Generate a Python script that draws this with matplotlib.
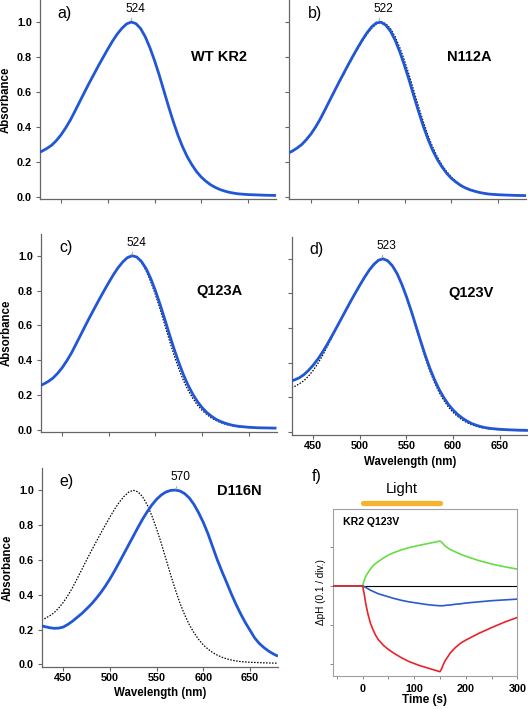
import matplotlib
matplotlib.use("Agg")
import matplotlib.pyplot as plt

plt.rcParams['font.family'] = ['Liberation Sans', 'DejaVu Sans']

# ---------------- data ----------------
wl = [427, 430, 435, 440, 445, 450, 455, 460, 465, 470, 475, 480, 485, 490, 495,
      500, 505, 510, 515, 520, 525, 530, 535, 540, 545, 550, 555, 560, 565, 570,
      575, 580, 585, 590, 595, 600, 605, 610, 615, 620, 625, 630, 635, 640, 650,
      660, 670, 680]

wt_abs = [0.254, 0.262, 0.277, 0.295, 0.322, 0.355, 0.395, 0.440, 0.492, 0.545,
          0.598, 0.650, 0.700, 0.750, 0.798, 0.845, 0.890, 0.930, 0.963, 0.988,
          0.999, 0.990, 0.962, 0.915, 0.852, 0.778, 0.695, 0.605, 0.515, 0.430,
          0.352, 0.285, 0.228, 0.182, 0.143, 0.112, 0.088, 0.068, 0.053, 0.041,
          0.032, 0.025, 0.020, 0.016, 0.012, 0.010, 0.008, 0.007]

n112a_abs = [0.252, 0.260, 0.277, 0.297, 0.325, 0.358, 0.398, 0.444, 0.496, 0.549,
             0.602, 0.654, 0.705, 0.756, 0.805, 0.852, 0.897, 0.938, 0.972, 0.994,
             0.998, 0.981, 0.947, 0.895, 0.828, 0.750, 0.665, 0.575, 0.487, 0.404,
             0.330, 0.266, 0.213, 0.170, 0.134, 0.105, 0.083, 0.064, 0.050, 0.039,
             0.031, 0.024, 0.019, 0.015, 0.011, 0.009, 0.007, 0.006]

q123a_abs = [0.255, 0.262, 0.277, 0.296, 0.323, 0.356, 0.396, 0.441, 0.493, 0.546,
             0.599, 0.651, 0.701, 0.751, 0.799, 0.846, 0.891, 0.931, 0.964, 0.989,
             1.000, 0.993, 0.968, 0.927, 0.870, 0.800, 0.722, 0.637, 0.550, 0.466,
             0.388, 0.318, 0.257, 0.206, 0.163, 0.128, 0.100, 0.078, 0.060, 0.047,
             0.037, 0.029, 0.023, 0.019, 0.014, 0.011, 0.010, 0.009]

q123v_abs = [0.295, 0.300, 0.312, 0.330, 0.355, 0.385, 0.420, 0.460, 0.505, 0.553,
             0.602, 0.652, 0.702, 0.752, 0.800, 0.847, 0.892, 0.933, 0.967, 0.991,
             0.999, 0.987, 0.958, 0.913, 0.852, 0.780, 0.700, 0.614, 0.527, 0.444,
             0.368, 0.302, 0.245, 0.198, 0.158, 0.126, 0.100, 0.079, 0.062, 0.048,
             0.038, 0.030, 0.024, 0.020, 0.015, 0.012, 0.010, 0.009]

wl_d116n = [427, 430, 435, 440, 445, 450, 455, 460, 465, 470, 475, 480, 485, 490,
            495, 500, 505, 510, 515, 520, 525, 530, 535, 540, 545, 550, 555, 560,
            565, 570, 575, 580, 585, 590, 595, 600, 605, 610, 615, 620, 625, 630,
            635, 640, 645, 650, 655, 660, 665, 670, 675, 680]
d116n_abs = [0.221, 0.217, 0.211, 0.207, 0.208, 0.214, 0.229, 0.248, 0.270, 0.292,
             0.318, 0.345, 0.376, 0.410, 0.448, 0.490, 0.536, 0.585, 0.635, 0.685,
             0.735, 0.785, 0.833, 0.876, 0.915, 0.947, 0.972, 0.989, 0.998, 1.000,
             0.995, 0.980, 0.955, 0.918, 0.870, 0.815, 0.750, 0.675, 0.600, 0.533,
             0.470, 0.405, 0.345, 0.290, 0.240, 0.196, 0.152, 0.120, 0.096, 0.076,
             0.060, 0.047]

panel_tags = ['a)', 'b)', 'c)', 'd)', 'e)']
sample_names = ['WT KR2', 'N112A', 'Q123A', 'Q123V', 'D116N']
peak_nm = [524, 522, 524, 523, 570]

t_s = [-58, 0, 3, 6, 10, 15, 20, 25, 30, 40, 50, 60, 75, 90, 100, 110, 125, 140,
       150, 153, 156, 160, 170, 180, 190, 200, 225, 250, 275, 300]
dph_green = [0, 0, 0.014, 0.024, 0.033, 0.043, 0.051, 0.057, 0.062, 0.071, 0.079,
             0.085, 0.092, 0.098, 0.101, 0.104, 0.108, 0.112, 0.115, 0.112, 0.108,
             0.102, 0.093, 0.087, 0.081, 0.076, 0.065, 0.056, 0.049, 0.043]
dph_blue = [0, 0, -0.002, -0.004, -0.007, -0.011, -0.014, -0.017, -0.020, -0.024,
            -0.028, -0.032, -0.037, -0.041, -0.043, -0.045, -0.048, -0.050, -0.051,
            -0.051, -0.051, -0.050, -0.049, -0.047, -0.046, -0.044, -0.041, -0.038,
            -0.036, -0.034]
dph_red = [0, 0, -0.020, -0.045, -0.070, -0.095, -0.112, -0.126, -0.137, -0.152,
           -0.163, -0.172, -0.184, -0.194, -0.199, -0.204, -0.210, -0.216, -0.220,
           -0.213, -0.203, -0.192, -0.172, -0.158, -0.147, -0.139, -0.122, -0.107,
           -0.093, -0.081]
light_on = [0, 150]

# ---------------- layout ----------------
W, H = 528, 709
fig = plt.figure(figsize=(W / 100, H / 100), dpi=100)


def add_ax(l, t, r, b):
    return fig.add_axes([l / W, 1 - b / H, (r - l) / W, (b - t) / H])


def ftext(x, y, s, **kw):
    fig.text(x / W, 1 - y / H, s, **kw)


BLUE = '#2157d6'
SPINE = '#666666'

boxes = [(39.7, 0, 276, 199.3),
         (289.3, 0, 526.3, 199.3),
         (40.7, 234, 276.5, 432.3),
         (291.7, 237, 527.8, 434.5),
         (41.7, 468.3, 278, 667)]
solids = [wt_abs, n112a_abs, q123a_abs, q123v_abs, d116n_abs]
solid_wl = [wl, wl, wl, wl, wl_d116n]

for i, box in enumerate(boxes):
    ax = add_ax(*box)
    if i > 0:
        ax.plot(wl, wt_abs, color='black', lw=0.9, ls=(0, (1.2, 1.2)), zorder=2)
    ax.plot(solid_wl[i], solids[i], color=BLUE, lw=2.0, zorder=3,
            solid_capstyle='butt', solid_joinstyle='round')
    ax.set_xlim(427, 680)
    ax.set_ylim(-0.015, 1.125)
    ax.set_xticks([450, 500, 550, 600, 650])
    ax.set_yticks([0.0, 0.2, 0.4, 0.6, 0.8, 1.0])
    for s in ['top', 'right']:
        ax.spines[s].set_visible(False)
    for s in ['left', 'bottom']:
        ax.spines[s].set_color(SPINE)
        ax.spines[s].set_linewidth(0.9)
    ax.tick_params(direction='out', length=3, width=0.8, color=SPINE,
                   labelsize=7.8, pad=1.5)
    ax.tick_params(axis='y', pad=2.5)
    if i in (0, 2, 4):
        ax.set_yticklabels(['0.0', '0.2', '0.4', '0.6', '0.8', '1.0'],
                           fontweight='bold')
        ax.set_ylabel('Absorbance', fontsize=8.3, fontweight='bold')
        ax.yaxis.set_label_coords(-0.118, 0.5)
    else:
        ax.set_yticklabels([])
    if i in (3, 4):
        ax.set_xticklabels(['450', '500', '550', '600', '650'],
                           fontweight='bold')
        ax.set_xlabel('Wavelength (nm)', fontsize=8.3, fontweight='bold',
                      labelpad=4 if i == 3 else 3)
    else:
        ax.set_xticklabels([])
    ax.text(454, 1.05, panel_tags[i], fontsize=11.5, ha='center', va='center')
    nx = 639 if i == 4 else 619
    ny = 0.995 if i == 4 else 0.80
    ax.text(nx, ny, sample_names[i], fontsize=10.5, fontweight='bold',
            ha='center', va='center')
    pk = peak_nm[i]
    ax.annotate(str(pk), xy=(pk + 0.3, 1.0), xytext=(pk + 5.5, 1.075),
                fontsize=8.6, ha='center', va='center',
                arrowprops=dict(arrowstyle='-', color='#999999', lw=0.6,
                                shrinkA=0.5, shrinkB=0.5))

# ---------------- panel f ----------------
axf = add_ax(332.7, 509, 517.3, 676)
axf.plot([0, 300], [0, 0], color='black', lw=0.8, zorder=2)
axf.plot(t_s, dph_green, color='#66dd44', lw=1.2, zorder=3)
axf.plot(t_s, dph_blue, color='#2a5ad0', lw=1.2, zorder=4)
axf.plot(t_s, dph_red, color='#e8232a', lw=1.2, zorder=5)
axf.set_xlim(-58, 300)
axf.set_ylim(-0.231, 0.197)
axf.set_xticks([0, 100, 200, 300])
axf.set_xticks([-50, 50, 150, 250], minor=True)
axf.set_yticks([-0.2, -0.1, 0.0, 0.1])
axf.set_yticklabels([])
for s in axf.spines.values():
    s.set_color('#a0a0a0')
    s.set_linewidth(0.8)
axf.tick_params(which='both', direction='out', length=2.5, width=0.7,
                color='#888888', labelsize=7.8, pad=3)
for lab in axf.get_xticklabels():
    lab.set_fontweight('bold')
axf.set_xlabel('Time (s)', fontsize=8.5, fontweight='bold', labelpad=0)
axf.set_ylabel('ΔpH (0.1 / div.)', fontsize=7.2)
axf.yaxis.set_label_coords(-0.036, 0.5)
axf.text(0.055, 0.92, 'KR2 Q123V', transform=axf.transAxes, fontsize=7.6,
         fontweight='bold', ha='left', va='center')
axf.plot(light_on, [0.213, 0.213], color='#f7b230', lw=3.8,
         solid_capstyle='round', clip_on=False)

ftext(317, 477, 'f)', fontsize=11.5, ha='center', va='center')
ftext(402, 489, 'Light', fontsize=10.5, ha='center', va='center')

fig.savefig('out.png', dpi=100)
